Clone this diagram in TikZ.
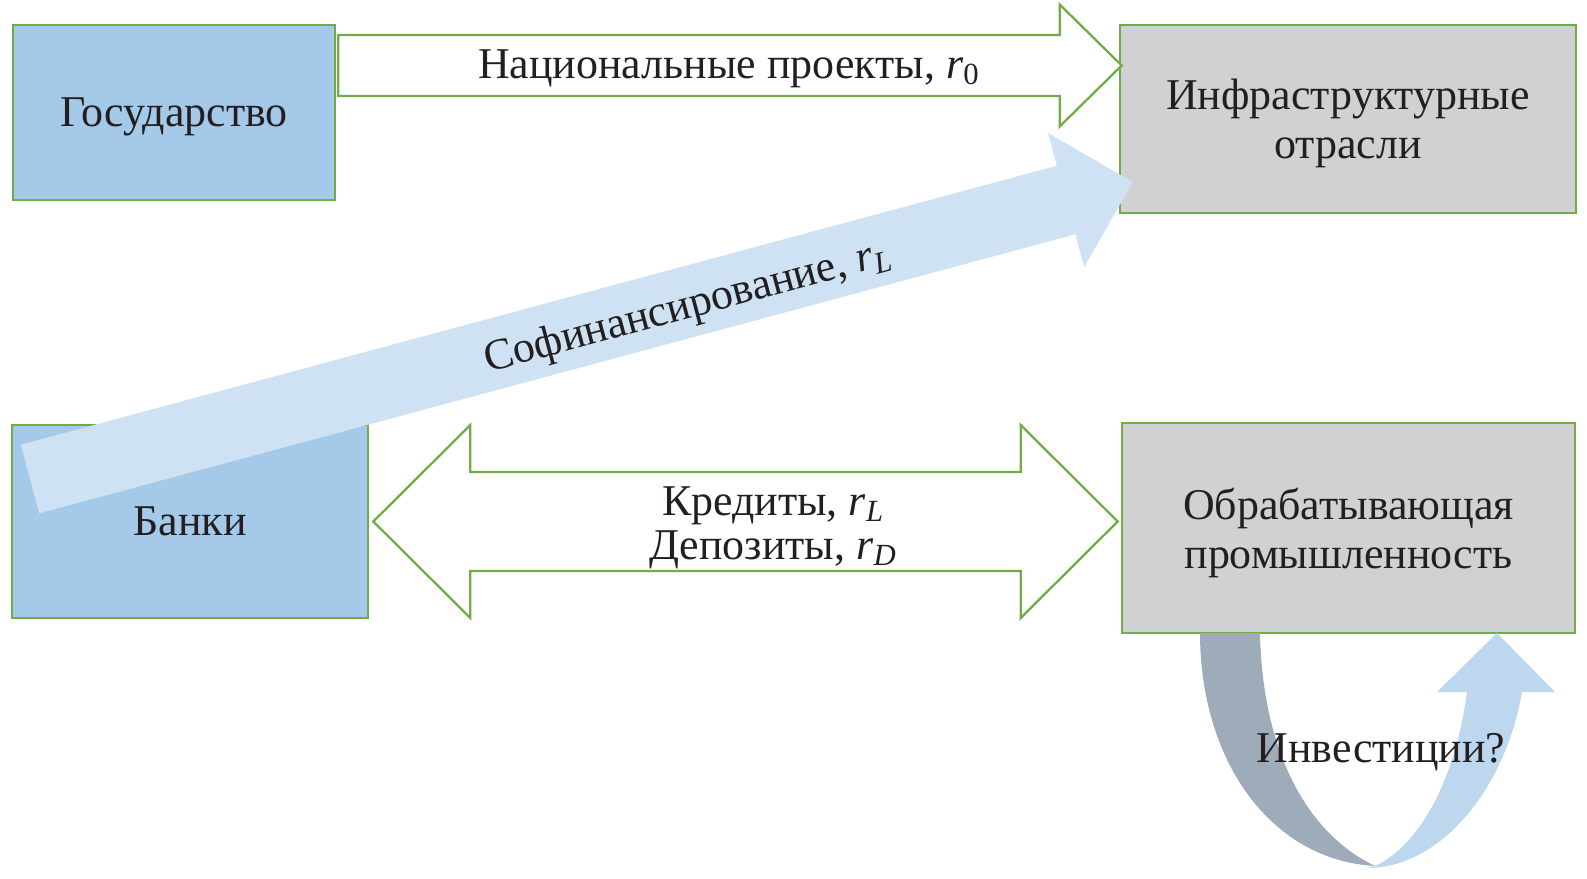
\documentclass[tikz,border=0pt]{standalone}
\usepackage{amsmath}
\usepackage{fontspec}
\setmainfont{Liberation Serif}
\usepackage{tikz}
\usetikzlibrary{shapes,fit,calc,positioning}

\definecolor{boxgreen}{RGB}{112,173,71}
\definecolor{boxblue}{RGB}{165,201,233}
\definecolor{boxgray}{RGB}{208,209,211}
\definecolor{flowblue}{RGB}{207,226,243}
\definecolor{investdark}{RGB}{158,172,186}
\definecolor{investlight}{RGB}{189,215,238}
\definecolor{inkblack}{RGB}{35,31,32}

\begin{document}
\begin{tikzpicture}[x=0.2mm, y=-0.2mm,
                every node/.append style={font=\fontsize{25}{28}\selectfont, text=inkblack, text depth=0pt},
                agent/.style={draw=boxgreen, line width=1.5pt, align=center, inner sep=0pt},
                govbox/.style={agent, fill=boxblue},
                sectorbox/.style={agent, fill=boxgray},
                outline arrow/.style={draw=boxgreen, line width=1.3pt, fill=white, line join=miter}]
                \useasboundingbox (0,0) rectangle (1587,879);
                \node [govbox, minimum width=64.4mm, minimum height=35mm] (gos) at (174,112.5) {Государство};
                \node [sectorbox, minimum width=91.2mm, minimum height=37.6mm] (infra) at (1348,119) {Инфраструктурные\\отрасли};
                \node [govbox, minimum width=71.2mm, minimum height=38.6mm] (banks) at (190,521.5) {Банки};
                \node [sectorbox, minimum width=90.6mm, minimum height=42mm] (manuf) at (1348.5,528) {Обрабатывающая\\промышленность};
                \coordinate (natTail) at ([xshift=0.4mm]gos.east |- 0,65.5);
                \coordinate (natTip) at ([xshift=0.6mm]infra.west |- 0,65.5);
                \draw [outline arrow] ($(natTail)+(0,-30.5)$) -- ($(natTip)+(-62,-30.5)$)
                    -- ($(natTip)+(-62,-61)$) -- (natTip) -- ($(natTip)+(-62,61)$)
                    -- ($(natTip)+(-62,30.5)$) -- ($(natTail)+(0,30.5)$) -- cycle;
                \node (natlabel) at (729,64) {Национальные проекты, \textit{r}$_{\text{0}}$};
                \coordinate (credL) at ([xshift=0.8mm]banks.east |- 0,521.5);
                \coordinate (credR) at ([xshift=-0.6mm]manuf.west |- 0,521.5);
                \draw [outline arrow] (credL) -- ($(credL)+(97,-96.5)$) -- ($(credL)+(97,-49.5)$)
                    -- ($(credR)+(-97,-49.5)$) -- ($(credR)+(-97,-96.5)$) -- (credR)
                    -- ($(credR)+(-97,96.5)$) -- ($(credR)+(-97,49.5)$)
                    -- ($(credL)+(97,49.5)$) -- ($(credL)+(97,96.5)$) -- cycle;
                \node [align=center, font=\fontsize{25}{25}\selectfont] (credlabel) at (773,523)
                    {Кредиты, \textit{r}$_{\textit{L}}$\\Депозиты, \textit{r}$_{\textit{D}}$};
                \begin{scope}[shift={(30,479)}, rotate=15.07]
                \fill [flowblue] (0,-35.5) -- (1073,-35.5) -- (1073,-69.5) -- (1142,0)
                    -- (1073,69.5) -- (1073,35.5) -- (0,35.5) -- cycle;
                \node [rotate=15.07] (cofin) at (680,1) {Софинансирование, \textit{r}$_{\textit{L}}$};
                \end{scope}
                \fill [investdark] (1200,633) -- (1260,633) .. controls (1262,740) and (1300,830) .. (1375,866)
                    .. controls (1270,860) and (1200,760) .. (1200,633) -- cycle;
                \fill [investlight] (1367,868) .. controls (1440,868) and (1505,790) .. (1522,692)
                    -- (1555,692) -- (1497,633) -- (1437,692) -- (1467,692)
                    .. controls (1455,780) and (1420,845) .. (1375,866) -- cycle;
                \node (invest) at (1381,748) {Инвестиции?};
\end{tikzpicture}
\end{document}
